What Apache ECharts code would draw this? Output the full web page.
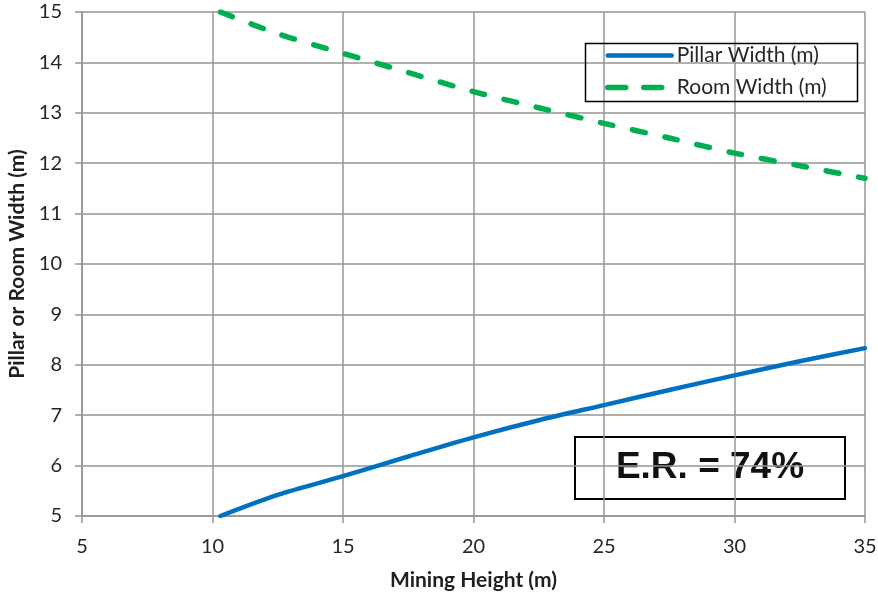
<!DOCTYPE html>
<html>
<head>
<meta charset="utf-8">
<script src="https://cdn.jsdelivr.net/npm/echarts@6/dist/echarts.min.js"></script>
<style>html,body{margin:0;padding:0;background:#fff}#c{width:878px;height:592px}</style>
</head>
<body>
<div id="c"></div>
<script>
const miningHeight = [10.3, 12.5, 15, 17.5, 20, 22.5, 25, 27.5, 30, 32.5, 35];
const pillarWidth  = [5.0, 5.42, 5.79, 6.18, 6.56, 6.9, 7.2, 7.5, 7.79, 8.07, 8.33];
const roomWidth    = [15.0, 14.57, 14.18, 13.8, 13.42, 13.1, 12.79, 12.5, 12.2, 11.95, 11.7];
const seriesNames  = ['Pillar Width (m)', 'Room Width (m)'];
const annotation   = 'E.R. = 74%';

const pair = (xs, ys) => xs.map((x, i) => [x, ys[i]]);
const FONT = 'Lato, "Open Sans", sans-serif';
const BLUE = '#0070C0', GREEN = '#00B050';

const chart = echarts.init(document.getElementById('c'), null, {renderer: 'canvas'});
chart.setOption({
  animation: false,
  backgroundColor: '#fff',
  grid: {left: 82, right: 13, top: 12, bottom: 76, containLabel: false, outerBoundsMode: 'none'},
  xAxis: {
    type: 'value', min: 5, max: 35, interval: 5,
    name: 'Mining Height (m)', nameLocation: 'middle', nameGap: 54,
    nameTextStyle: {fontFamily: FONT, fontWeight: 'bold', fontSize: 21, color: '#1f1f1f'},
    axisLine: {show: true, lineStyle: {color: '#959595', width: 1.5}},
    axisTick: {show: true, length: 7, lineStyle: {color: '#959595', width: 1.5}},
    axisLabel: {fontFamily: FONT, fontSize: 20, color: '#262626', margin: 21},
    splitLine: {show: true, lineStyle: {color: '#959595', width: 1.5}}
  },
  yAxis: {
    type: 'value', min: 5, max: 15, interval: 1,
    name: 'Pillar or Room Width (m)', nameLocation: 'middle', nameGap: 54,
    nameTextStyle: {fontFamily: FONT, fontWeight: 'bold', fontSize: 21, color: '#1f1f1f'},
    axisLine: {show: true, lineStyle: {color: '#959595', width: 1.5}},
    axisTick: {show: true, length: 7, lineStyle: {color: '#959595', width: 1.5}},
    axisLabel: {fontFamily: FONT, fontSize: 20, color: '#262626', margin: 20},
    splitLine: {show: true, lineStyle: {color: '#959595', width: 1.5}}
  },
  legend: {
    left: 605, top: 45, orient: 'vertical', itemGap: 11, padding: 0,
    itemWidth: 64, itemHeight: 14,
    textStyle: {fontFamily: FONT, fontSize: 21, color: '#262626'},
    data: [
      {name: seriesNames[0], itemStyle: {opacity: 0}, lineStyle: {width: 4.5, color: BLUE}},
      {name: seriesNames[1], itemStyle: {opacity: 0}, lineStyle: {width: 5.5, color: GREEN, type: [18, 18], cap: 'round'}}
    ]
  },
  graphic: [
    {type: 'rect', left: 583, top: 41, shape: {width: 272, height: 58},
     style: {fill: 'none', stroke: '#000', lineWidth: 1.5}, z: 5},
    {type: 'group', left: 574, top: 436, z: 10, children: [
      {type: 'rect', shape: {x: 0, y: 0, width: 270, height: 62},
       style: {fill: '#fff', stroke: '#000', lineWidth: 2}},
      {type: 'text', x: 135, y: 31,
       style: {text: annotation, font: 'bold 37px "Liberation Sans", Arial, sans-serif',
               fill: '#111', textAlign: 'center', textVerticalAlign: 'middle'}}
    ]}
  ],
  series: [
    {name: seriesNames[0], type: 'line', data: pair(miningHeight, pillarWidth),
     smooth: 0.3, showSymbol: false, symbol: 'none',
     lineStyle: {color: BLUE, width: 4.5, cap: 'round'},
     itemStyle: {color: BLUE}},
    {name: seriesNames[1], type: 'line', data: pair(miningHeight, roomWidth),
     smooth: 0.3, showSymbol: false, symbol: 'none',
     lineStyle: {color: GREEN, width: 5.5, type: [13, 20], cap: 'round'},
     itemStyle: {color: GREEN}}
  ]
});
</script>
</body>
</html>
